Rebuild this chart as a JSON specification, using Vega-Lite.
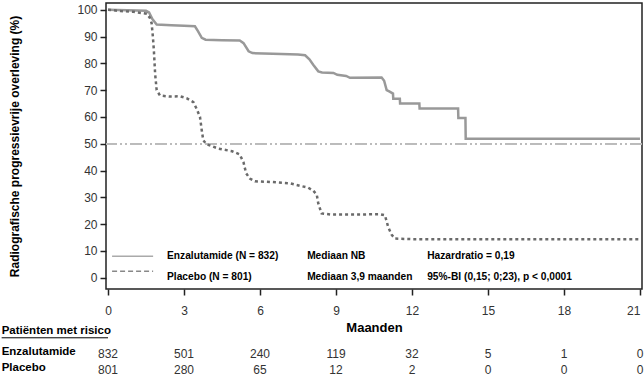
{
  "$schema": "https://vega.github.io/schema/vega-lite/v6.json",
  "width": 536,
  "height": 286,
  "autosize": "none",
  "padding": {"left": 106, "top": 3, "right": 2, "bottom": 88},
  "background": "white",
  "config": {
    "font": "Liberation Sans",
    "view": {"stroke": "#222", "strokeWidth": 1.5},
    "axis": {"grid": false, "domain": false},
    "axisY": {"tickCount": 11, "labelOverlap": false, "labelBound": false, "labelFlush": false}
  },
  "datasets": {
    "curves": [
      {"group": "Enzalutamide", "month": 0, "surv": 100},
      {"group": "Enzalutamide", "month": 1.5, "surv": 99.6},
      {"group": "Enzalutamide", "month": 1.62, "surv": 99},
      {"group": "Enzalutamide", "month": 1.75, "surv": 96.5},
      {"group": "Enzalutamide", "month": 1.92, "surv": 94.5},
      {"group": "Enzalutamide", "month": 2.5, "surv": 94.2},
      {"group": "Enzalutamide", "month": 3.0, "surv": 94},
      {"group": "Enzalutamide", "month": 3.43, "surv": 93.8},
      {"group": "Enzalutamide", "month": 3.55, "surv": 92},
      {"group": "Enzalutamide", "month": 3.7, "surv": 89.5},
      {"group": "Enzalutamide", "month": 3.85, "surv": 88.8},
      {"group": "Enzalutamide", "month": 4.5, "surv": 88.6},
      {"group": "Enzalutamide", "month": 5.2, "surv": 88.5},
      {"group": "Enzalutamide", "month": 5.35, "surv": 87.5},
      {"group": "Enzalutamide", "month": 5.55, "surv": 84.5},
      {"group": "Enzalutamide", "month": 5.7, "surv": 83.8},
      {"group": "Enzalutamide", "month": 6.5, "surv": 83.6},
      {"group": "Enzalutamide", "month": 7.5, "surv": 83.3},
      {"group": "Enzalutamide", "month": 7.78, "surv": 83.0},
      {"group": "Enzalutamide", "month": 7.95, "surv": 81.5},
      {"group": "Enzalutamide", "month": 8.1, "surv": 79.5},
      {"group": "Enzalutamide", "month": 8.3, "surv": 77},
      {"group": "Enzalutamide", "month": 8.45, "surv": 76.6},
      {"group": "Enzalutamide", "month": 8.9, "surv": 76.4},
      {"group": "Enzalutamide", "month": 9.05, "surv": 75.7},
      {"group": "Enzalutamide", "month": 9.4, "surv": 75.3},
      {"group": "Enzalutamide", "month": 9.55, "surv": 74.6},
      {"group": "Enzalutamide", "month": 10.8, "surv": 74.7},
      {"group": "Enzalutamide", "month": 10.9, "surv": 73.5},
      {"group": "Enzalutamide", "month": 11.0, "surv": 70},
      {"group": "Enzalutamide", "month": 11.1, "surv": 69.5},
      {"group": "Enzalutamide", "month": 11.25, "surv": 68.7},
      {"group": "Enzalutamide", "month": 11.26, "surv": 66.8},
      {"group": "Enzalutamide", "month": 11.52, "surv": 66.8},
      {"group": "Enzalutamide", "month": 11.53, "surv": 65.0},
      {"group": "Enzalutamide", "month": 12.29, "surv": 65.0},
      {"group": "Enzalutamide", "month": 12.3, "surv": 63.1},
      {"group": "Enzalutamide", "month": 13.82, "surv": 63.1},
      {"group": "Enzalutamide", "month": 13.83, "surv": 59.6},
      {"group": "Enzalutamide", "month": 14.11, "surv": 59.6},
      {"group": "Enzalutamide", "month": 14.12, "surv": 51.9},
      {"group": "Enzalutamide", "month": 21, "surv": 51.9},
      {"group": "Placebo", "month": 0, "surv": 100},
      {"group": "Placebo", "month": 0.5, "surv": 99.5},
      {"group": "Placebo", "month": 1.0, "surv": 99.2},
      {"group": "Placebo", "month": 1.53, "surv": 98.5},
      {"group": "Placebo", "month": 1.65, "surv": 97},
      {"group": "Placebo", "month": 1.72, "surv": 95},
      {"group": "Placebo", "month": 1.77, "surv": 90},
      {"group": "Placebo", "month": 1.81, "surv": 84.8},
      {"group": "Placebo", "month": 1.86, "surv": 76},
      {"group": "Placebo", "month": 1.92, "surv": 70},
      {"group": "Placebo", "month": 2.05, "surv": 68},
      {"group": "Placebo", "month": 2.4, "surv": 67.6},
      {"group": "Placebo", "month": 2.84, "surv": 67.7},
      {"group": "Placebo", "month": 3.1, "surv": 67},
      {"group": "Placebo", "month": 3.37, "surv": 65.5},
      {"group": "Placebo", "month": 3.5, "surv": 63},
      {"group": "Placebo", "month": 3.63, "surv": 60},
      {"group": "Placebo", "month": 3.7, "surv": 55},
      {"group": "Placebo", "month": 3.76, "surv": 51.3},
      {"group": "Placebo", "month": 3.89, "surv": 49.8},
      {"group": "Placebo", "month": 4.35, "surv": 48.2},
      {"group": "Placebo", "month": 4.9, "surv": 47.2},
      {"group": "Placebo", "month": 5.2, "surv": 46},
      {"group": "Placebo", "month": 5.35, "surv": 43},
      {"group": "Placebo", "month": 5.45, "surv": 39},
      {"group": "Placebo", "month": 5.6, "surv": 37},
      {"group": "Placebo", "month": 5.8, "surv": 36},
      {"group": "Placebo", "month": 6.5, "surv": 35.7},
      {"group": "Placebo", "month": 7.2, "surv": 35.2},
      {"group": "Placebo", "month": 7.58, "surv": 34.3},
      {"group": "Placebo", "month": 7.9, "surv": 33.6},
      {"group": "Placebo", "month": 8.1, "surv": 32.5},
      {"group": "Placebo", "month": 8.24, "surv": 31},
      {"group": "Placebo", "month": 8.3, "surv": 27.7},
      {"group": "Placebo", "month": 8.43, "surv": 24},
      {"group": "Placebo", "month": 8.8, "surv": 23.6},
      {"group": "Placebo", "month": 10.0, "surv": 23.6},
      {"group": "Placebo", "month": 10.74, "surv": 23.7},
      {"group": "Placebo", "month": 10.93, "surv": 23.3},
      {"group": "Placebo", "month": 11.0, "surv": 21},
      {"group": "Placebo", "month": 11.06, "surv": 18.9},
      {"group": "Placebo", "month": 11.2, "surv": 16},
      {"group": "Placebo", "month": 11.33, "surv": 14.6},
      {"group": "Placebo", "month": 12, "surv": 14.4},
      {"group": "Placebo", "month": 21, "surv": 14.4}
    ],
    "risk": [
      {"group": "Enzalutamide", "month": 0, "n": 832},
      {"group": "Enzalutamide", "month": 3, "n": 501},
      {"group": "Enzalutamide", "month": 6, "n": 240},
      {"group": "Enzalutamide", "month": 9, "n": 119},
      {"group": "Enzalutamide", "month": 12, "n": 32},
      {"group": "Enzalutamide", "month": 15, "n": 5},
      {"group": "Enzalutamide", "month": 18, "n": 1},
      {"group": "Enzalutamide", "month": 21, "n": 0},
      {"group": "Placebo", "month": 0, "n": 801},
      {"group": "Placebo", "month": 3, "n": 280},
      {"group": "Placebo", "month": 6, "n": 65},
      {"group": "Placebo", "month": 9, "n": 12},
      {"group": "Placebo", "month": 12, "n": 2},
      {"group": "Placebo", "month": 15, "n": 0},
      {"group": "Placebo", "month": 18, "n": 0},
      {"group": "Placebo", "month": 21, "n": 0}
    ]
  },
  "layer": [
    {
      "data": {"name": "curves"},
      "transform": [{"filter": "datum.group === 'Enzalutamide'"}],
      "mark": {"type": "line", "color": "#999999", "strokeWidth": 2.5, "interpolate": "linear"},
      "encoding": {
        "x": {
          "field": "month", "type": "quantitative",
          "scale": {"domain": [-0.08, 21.08], "nice": false, "zero": false},
          "axis": {
            "values": [0, 3, 6, 9, 12, 15, 18, 21],
            "tickSize": 6, "tickWidth": 1.5, "tickColor": "#222",
            "labelFontSize": 12, "labelColor": "#333", "labelPadding": 10,
            "labelOverlap": false, "labelBound": false,
            "labelAlign": {"condition": {"test": "datum.value == 21", "value": "right"}, "value": "center"},
            "labelDx": {"condition": {"test": "datum.value == 21", "value": 3}, "value": 0},
            "title": "Maanden", "titleFontSize": 13, "titleFontWeight": "bold",
            "titleColor": "#000", "titlePadding": 5
          }
        },
        "y": {
          "field": "surv", "type": "quantitative",
          "scale": {"domain": [-4.2, 102.5], "nice": false, "zero": false},
          "axis": {
            "values": [0, 10, 20, 30, 40, 50, 60, 70, 80, 90, 100],
            "tickCount": 11,
            "tickSize": 6, "tickWidth": 1.5, "tickColor": "#222",
            "labelFontSize": 12, "labelColor": "#333", "labelPadding": 3,
            "labelOverlap": false, "labelBound": false,
            "title": "Radiografische progressievrije overleving (%)",
            "titleFontSize": 12, "titleFontWeight": "bold", "titleColor": "#000",
            "titlePadding": 55
          }
        }
      }
    },
    {
      "data": {"name": "curves"},
      "mark": {"type": "rule", "color": "#bbbbbb", "strokeWidth": 1.3, "strokeDash": [12, 3, 2, 3, 2, 3]},
      "encoding": {"y": {"datum": 50, "type": "quantitative"}}
    },
    {
      "data": {"name": "curves"},
      "transform": [{"filter": "datum.group === 'Placebo'"}],
      "mark": {"type": "line", "color": "#6a6a6a", "strokeWidth": 2.5, "strokeDash": [3, 3], "strokeCap": "butt", "interpolate": "linear"},
      "encoding": {
        "x": {"field": "month", "type": "quantitative"},
        "y": {"field": "surv", "type": "quantitative"}
      }
    },
    {
      "data": {"values": [{}]},
      "mark": {"type": "rule", "color": "#aaaaaa", "strokeWidth": 1.5},
      "encoding": {
        "x": {"datum": 0.16, "type": "quantitative"},
        "x2": {"datum": 1.78},
        "y": {"datum": 8.0, "type": "quantitative"}
      }
    },
    {
      "data": {"values": [{}]},
      "mark": {"type": "rule", "color": "#888888", "strokeWidth": 1.5, "strokeDash": [5, 3]},
      "encoding": {
        "x": {"datum": 0.16, "type": "quantitative"},
        "x2": {"datum": 1.78},
        "y": {"datum": 2.4, "type": "quantitative"}
      }
    },
    {
      "data": {"values": [{}]},
      "mark": {"type": "text", "text": "Enzalutamide (N = 832)", "align": "left", "baseline": "middle", "fontSize": 10.2, "fontWeight": "bold", "color": "#000"},
      "encoding": {"x": {"datum": 2.33, "type": "quantitative"}, "y": {"datum": 8.0, "type": "quantitative"}}
    },
    {
      "data": {"values": [{}]},
      "mark": {"type": "text", "text": "Placebo (N = 801)", "align": "left", "baseline": "middle", "fontSize": 10.2, "fontWeight": "bold", "color": "#000"},
      "encoding": {"x": {"datum": 2.33, "type": "quantitative"}, "y": {"datum": 0.2, "type": "quantitative"}}
    },
    {
      "data": {"values": [{}]},
      "mark": {"type": "text", "text": "Mediaan NB", "align": "left", "baseline": "middle", "fontSize": 10.2, "fontWeight": "bold", "color": "#000"},
      "encoding": {"x": {"datum": 7.86, "type": "quantitative"}, "y": {"datum": 8.0, "type": "quantitative"}}
    },
    {
      "data": {"values": [{}]},
      "mark": {"type": "text", "text": "Mediaan 3,9 maanden", "align": "left", "baseline": "middle", "fontSize": 10.2, "fontWeight": "bold", "color": "#000"},
      "encoding": {"x": {"datum": 7.86, "type": "quantitative"}, "y": {"datum": 0.2, "type": "quantitative"}}
    },
    {
      "data": {"values": [{}]},
      "mark": {"type": "text", "text": "Hazardratio = 0,19", "align": "left", "baseline": "middle", "fontSize": 10.2, "fontWeight": "bold", "color": "#000"},
      "encoding": {"x": {"datum": 12.6, "type": "quantitative"}, "y": {"datum": 8.0, "type": "quantitative"}}
    },
    {
      "data": {"values": [{}]},
      "mark": {"type": "text", "text": "95%-BI (0,15; 0;23), p < 0,0001", "align": "left", "baseline": "middle", "fontSize": 10.2, "fontWeight": "bold", "color": "#000"},
      "encoding": {"x": {"datum": 12.6, "type": "quantitative"}, "y": {"datum": 0.2, "type": "quantitative"}}
    },
    {
      "data": {"values": [{}]},
      "mark": {"type": "text", "text": "Patiënten met risico", "align": "left", "baseline": "middle", "fontSize": 11.5, "fontWeight": "bold", "color": "#000"},
      "encoding": {"x": {"datum": -4.2, "type": "quantitative"}, "y": {"datum": -20, "type": "quantitative"}}
    },
    {
      "data": {"values": [{}]},
      "mark": {"type": "rule", "color": "#000", "strokeWidth": 1},
      "encoding": {
        "x": {"datum": -4.2, "type": "quantitative"},
        "x2": {"datum": 0.0},
        "y": {"datum": -22.4, "type": "quantitative"}
      }
    },
    {
      "data": {"values": [{}]},
      "mark": {"type": "text", "text": "Enzalutamide", "align": "left", "baseline": "middle", "fontSize": 11.5, "fontWeight": "bold", "color": "#000"},
      "encoding": {"x": {"datum": -4.2, "type": "quantitative"}, "y": {"datum": -27.8, "type": "quantitative"}}
    },
    {
      "data": {"values": [{}]},
      "mark": {"type": "text", "text": "Placebo", "align": "left", "baseline": "middle", "fontSize": 11.5, "fontWeight": "bold", "color": "#000"},
      "encoding": {"x": {"datum": -4.2, "type": "quantitative"}, "y": {"datum": -33.7, "type": "quantitative"}}
    },
    {
      "data": {"name": "risk"},
      "transform": [{"filter": "datum.group === 'Enzalutamide'"}],
      "mark": {"type": "text", "align": "center", "baseline": "middle", "fontSize": 12, "color": "#333"},
      "encoding": {
        "x": {"field": "month", "type": "quantitative"},
        "y": {"datum": -28.5, "type": "quantitative"},
        "text": {"field": "n", "type": "quantitative"}
      }
    },
    {
      "data": {"name": "risk"},
      "transform": [{"filter": "datum.group === 'Placebo'"}],
      "mark": {"type": "text", "align": "center", "baseline": "middle", "fontSize": 12, "color": "#333"},
      "encoding": {
        "x": {"field": "month", "type": "quantitative"},
        "y": {"datum": -34.4, "type": "quantitative"},
        "text": {"field": "n", "type": "quantitative"}
      }
    }
  ]
}
